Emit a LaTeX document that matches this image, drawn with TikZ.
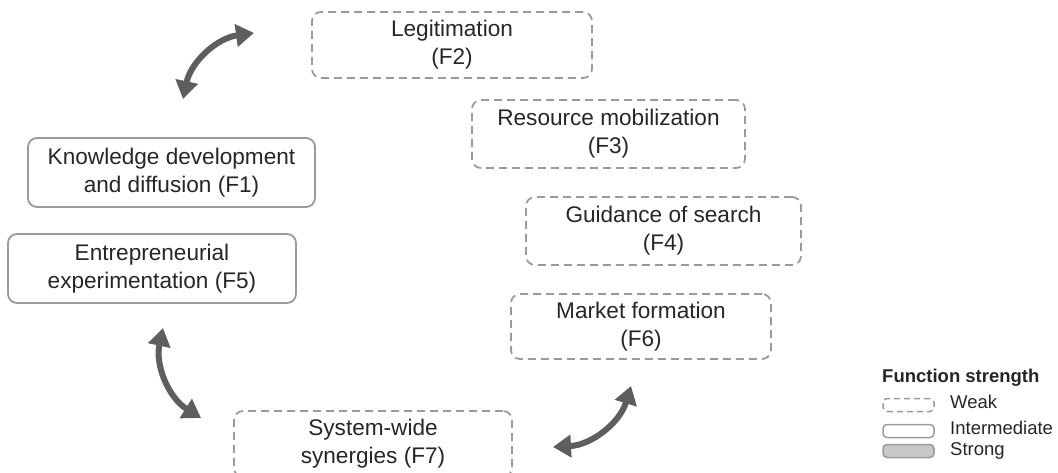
\documentclass[tikz,border=0pt]{standalone}
\usepackage{fontspec}
\setmainfont{Liberation Sans}
\usetikzlibrary{arrows.meta}
\definecolor{boxgray}{HTML}{9A9A9A}
\definecolor{txtgray}{HTML}{262626}
\definecolor{arrgray}{HTML}{5E5E5E}
\definecolor{fillgray}{HTML}{C8C8C8}
\begin{document}
\begin{tikzpicture}[x=1pt,y=1pt,
  fbox/.style={draw=boxgray, line width=1.8pt, rounded corners=9pt, align=center,
    text=txtgray, font=\fontsize{22.6}{28}\selectfont, inner sep=0pt},
  weakbox/.style={fbox, dash pattern=on 8pt off 5pt},
  midbox/.style={fbox},
  linkarrow/.style={draw=arrgray, line width=6pt,
    {Triangle[length=18pt,width=22pt]}-{Triangle[length=18pt,width=22pt]}},
  legbox/.style={draw=boxgray, line width=1.5pt, rounded corners=4pt, minimum width=51pt, minimum height=13pt, inner sep=0pt},
  legtext/.style={anchor=west, text=txtgray, font=\fontsize{18.5}{22}\selectfont, inner sep=0pt}]
\useasboundingbox (0,0) rectangle (1058,-473);
\clip (0,0) rectangle (1058,-473);
% function boxes
\node[weakbox, minimum width=280pt, minimum height=66pt] (f2) at (452,-45) {Legitimation\\(F2)};
\node[weakbox, minimum width=273pt, minimum height=68pt] (f3) at (608.5,-134) {Resource mobilization\\(F3)};
\node[weakbox, minimum width=275pt, minimum height=68pt] (f4) at (663.5,-231) {Guidance of search\\(F4)};
\node[weakbox, minimum width=260pt, minimum height=65pt] (f6) at (641,-326.5) {Market formation\\(F6)};
\node[weakbox, minimum width=278pt, minimum height=66pt] (f7) at (373,-444) {System-wide\\synergies (F7)};
\node[midbox, minimum width=287pt, minimum height=69pt] (f1) at (171.5,-172.5) {Knowledge development\\and diffusion (F1)};
\node[midbox, minimum width=288pt, minimum height=69pt] (f5) at (152,-268.5) {Entrepreneurial\\experimentation (F5)};
% curved arrows
\coordinate (a1s) at (183,-99);
\coordinate (a1e) at (254,-33);
\coordinate (a2s) at (163,-328);
\coordinate (a2e) at (201,-418);
\coordinate (a3s) at (553,-447);
\coordinate (a3e) at (631,-386);
\draw[linkarrow] (a1s) to[bend left=35] (a1e);
\draw[linkarrow] (a2s) to[bend right=35] (a2e);
\draw[linkarrow] (a3s) to[bend right=35] (a3e);
% legend
\node[anchor=west, text=txtgray, font=\bfseries\fontsize{18.5}{22}\selectfont, inner sep=0pt] (lt) at (882,-378) {Function strength};
\node[legbox, dash pattern=on 6pt off 4pt] (lw) at (908.5,-405) {};
\node[legbox] (li) at (908.5,-431) {};
\node[legbox, fill=fillgray] (ls) at (908.5,-451) {};
\node[legtext] (lwt) at (950,-402) {Weak};
\node[legtext] (lit) at (950,-428) {Intermediate};
\node[legtext] (lst) at (950,-451) {Strong};
\end{tikzpicture}
\end{document}
